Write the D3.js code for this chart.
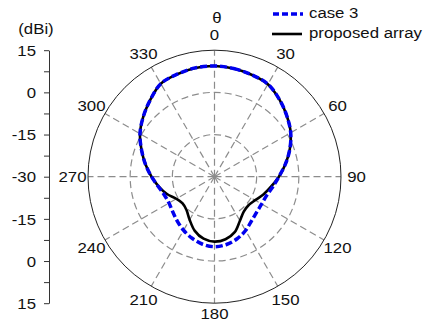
<!DOCTYPE html>
<html>
<head>
<meta charset="utf-8">
<script src="https://cdn.jsdelivr.net/npm/d3@7"></script>
<style>
  body { margin: 0; background: #fff; }
  text { font-family: "Liberation Sans", Arial, sans-serif; font-size: 15px; fill: #111; }
</style>
</head>
<body>
<div id="chart"></div>
<script>
// angle grid (deg, clockwise from top) and gain values (dBi)
var angles = [0, 10, 20, 30, 40, 50, 60, 70, 80, 90, 100, 110, 120, 130, 140, 150, 160, 170,
              180, 190, 200, 210, 220, 230, 240, 250, 260, 270, 280, 290, 300, 310, 320, 330, 340, 350];
var case3 = [9.4, 9.1, 8.6, 8.0, 5.9, 3.6, 1.3, -1.5, -4.4, -7.1, -9.0, -10.3, -10.6, -10.4, -9.5, -7.9, -6.5, -5.5,
             -5.1, -5.6, -6.7, -8.0, -9.4, -10.6, -11.3, -11.0, -9.7, -7.6, -5.1, -2.4, 0.6, 3.1, 5.6, 8.2, 8.8, 9.3];
var proposed = [9.4, 9.1, 8.6, 8.0, 5.9, 3.6, 1.3, -1.5, -4.4, -7.1, -9.6, -11.5, -13.3, -14.2, -13.8, -11.9, -9.0, -7.4,
                -6.9, -7.6, -9.5, -12.3, -14.5, -15.2, -14.3, -12.0, -9.9, -7.6, -5.1, -2.4, 0.6, 3.1, 5.6, 8.2, 8.8, 9.3];
var angleTicks = [0, 30, 60, 90, 120, 150, 180, 210, 240, 270, 300, 330];
var gridLevels = [-15, 0];
var legendNames = ["case 3", "proposed array"];

var width = 432, height = 323;
var cx = 214.5, cy = 176.7, R = 126.5;

var svg = d3.select("#chart")
  .append("svg")
    .attr("width", width)
    .attr("height", height);

// radial scale: -30 dBi at the centre, 15 dBi at the rim
var r = d3.scaleLinear().domain([-30, 15]).range([0, R]);

var g = svg.append("g")
  .attr("transform", "translate(" + cx + "," + cy + ")");

function rad(a) { return a * Math.PI / 180; }

// helper for slightly wide text like the original
function label(parent, x, y, txt, anchor) {
  return parent.append("text")
    .attr("transform", "translate(" + x + "," + y + ") scale(1.12,1)")
    .attr("text-anchor", anchor || "middle")
    .attr("dominant-baseline", "central")
    .text(txt);
}

// dashed grid circles
g.selectAll(".ring")
  .data(gridLevels)
  .enter().append("circle")
    .attr("r", function(d) { return r(d); })
    .attr("fill", "none")
    .attr("stroke", "#8c8c8c")
    .attr("stroke-width", 1.2)
    .attr("stroke-dasharray", "7,4");

// spokes
g.selectAll(".spoke")
  .data(angleTicks)
  .enter().append("line")
    .attr("x1", 0).attr("y1", 0)
    .attr("x2", function(d) { return R * Math.sin(rad(d)); })
    .attr("y2", function(d) { return -R * Math.cos(rad(d)); })
    .attr("stroke", "#8c8c8c")
    .attr("stroke-width", 1.2)
    .attr("stroke-dasharray", "7,4");

// outer rim
g.append("circle")
  .attr("r", r(15))
  .attr("fill", "none")
  .attr("stroke", "#222")
  .attr("stroke-width", 1);

// angle labels
angleTicks.forEach(function(a) {
  var lr = a === 180 ? 137 : 142;
  label(g, lr * Math.sin(rad(a)), -lr * Math.cos(rad(a)), a);
});
label(svg, 217, 18, "\u03b8");

// pattern curves
var line = d3.lineRadial()
  .angle(function(d) { return rad(d[0]); })
  .radius(function(d) { return r(d[1]); })
  .curve(d3.curveCatmullRomClosed);

g.append("path")
  .datum(angles.map(function(a, i) { return [a, proposed[i]]; }))
  .attr("fill", "none")
  .attr("stroke", "#000")
  .attr("stroke-width", 2.6)
  .attr("d", line);

g.append("path")
  .datum(angles.map(function(a, i) { return [a, case3[i]]; }))
  .attr("fill", "none")
  .attr("stroke", "#0000ee")
  .attr("stroke-width", 3.5)
  .attr("stroke-dasharray", "7,3")
  .attr("d", line);

// left gain axis (mirrored about the centre)
var yAxis = d3.scaleLinear().domain([-45, 45]).range([cy + R, cy - R]);
var axisG = svg.append("g")
  .attr("transform", "translate(49,0)")
  .call(d3.axisLeft(yAxis)
    .tickValues(d3.range(-45, 45.1, 7.5))
    .tickSize(5)
    .tickSizeOuter(0)
    .tickFormat(function(d) { return d % 15 === 0 ? (-30 + Math.abs(d)) : ""; }));
axisG.select(".domain").attr("stroke", "#333");
axisG.selectAll(".tick line").attr("stroke", "#333");
axisG.selectAll(".tick text")
  .attr("x", null).attr("dy", null)
  .attr("transform", "translate(-13,0) scale(1.12,1)")
  .attr("dominant-baseline", "central")
  .style("font-size", "15px")
  .style("font-family", "'Liberation Sans', Arial, sans-serif")
  .attr("fill", "#111");

label(svg, 36, 28.5, "(dBi)");

// legend
var legend = svg.append("g");
legend.append("line")
  .attr("x1", 273).attr("x2", 303).attr("y1", 14).attr("y2", 14)
  .attr("stroke", "#0000ee").attr("stroke-width", 3.5).attr("stroke-dasharray", "6,3");
legend.append("line")
  .attr("x1", 272).attr("x2", 302).attr("y1", 34).attr("y2", 34)
  .attr("stroke", "#000").attr("stroke-width", 2.6);
label(legend, 309, 13, legendNames[0], "start");
label(legend, 309, 33, legendNames[1], "start");
</script>
</body>
</html>
